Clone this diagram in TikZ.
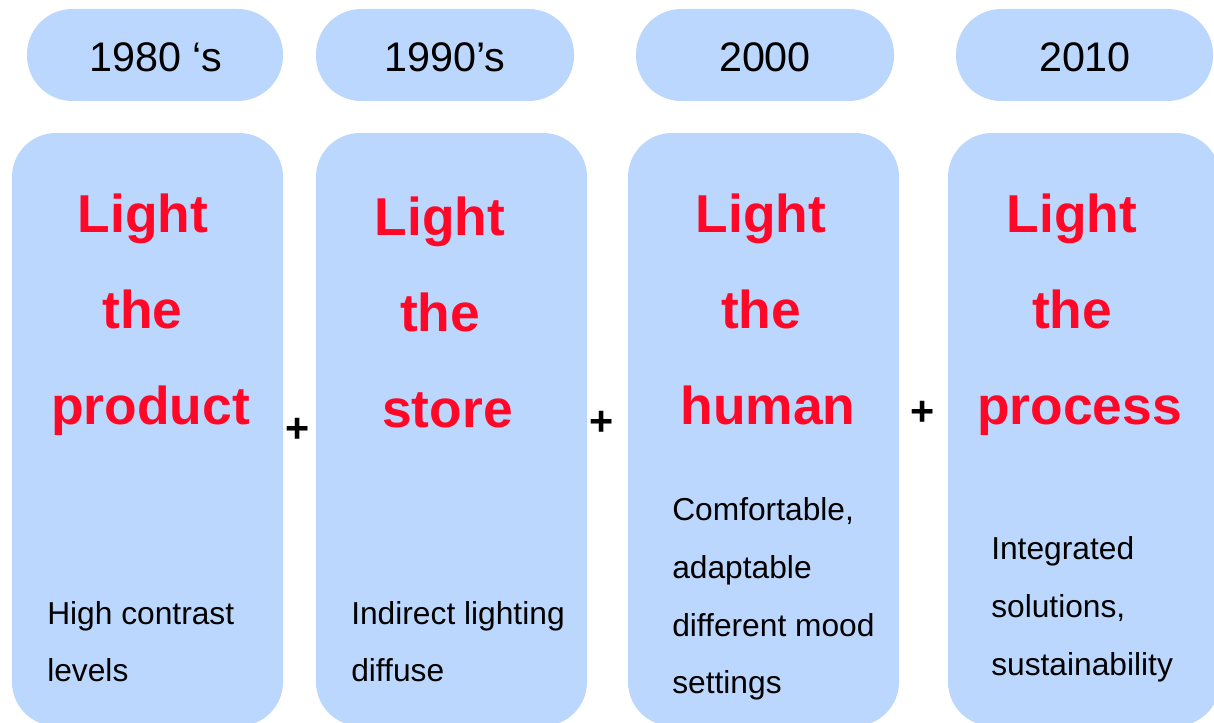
\documentclass[tikz,border=0pt]{standalone}
\usepackage{fontspec}
\setmainfont{Liberation Sans}
\definecolor{panelblue}{RGB}{188,215,253}
\definecolor{headred}{RGB}{255,8,40}

\begin{document}
\begin{tikzpicture}[x=0.75pt,y=-0.75pt,
  pill/.style={fill=panelblue, rounded corners=34pt},
  panel/.style={fill=panelblue, rounded corners=33pt},
  year/.style={anchor=base, inner sep=0pt, font=\fontsize{31}{37}\selectfont},
  headword/.style={anchor=base, inner sep=0pt, text=headred, font=\fontsize{40}{48}\selectfont\bfseries},
  note/.style={anchor=base west, inner sep=0pt, font=\fontsize{23.8}{28}\selectfont},
  plus/.style={inner sep=0pt, font=\fontsize{31}{37}\selectfont\bfseries}]

 \useasboundingbox (0,0) rectangle (1214,723);

 % year pills
 \fill[pill] (27,9) rectangle (283,101);
 \fill[pill] (316,9) rectangle (574,101);
 \fill[pill] (636,9) rectangle (894,101);
 \fill[pill] (956,9) rectangle (1213,101);

 % panels
 \fill[panel] (12,133) rectangle (283,726);
 \fill[panel] (316,133) rectangle (587,726);
 \fill[panel] (628,133) rectangle (899,726);
 \fill[panel] (948,133) rectangle (1220,726);

 % years
 \node[year] (y1) at (156,72) {1980 ‘s};
 \node[year] (y2) at (445,72) {1990’s};
 \node[year] (y3) at (765,72) {2000};
 \node[year] (y4) at (1085,72) {2010};

 % head words
 \node[headword] (h1a) at (143,233) {Light};
 \node[headword] (h1b) at (142.5,329) {the};
 \node[headword] (h1c) at (150.5,425) {product};

 \node[headword] (h2a) at (440,236) {Light};
 \node[headword] (h2b) at (440,332) {the};
 \node[headword] (h2c) at (447.5,428) {store};

 \node[headword] (h3a) at (761,233) {Light};
 \node[headword] (h3b) at (761,329) {the};
 \node[headword] (h3c) at (768,425) {human};

 \node[headword] (h4a) at (1072,233) {Light};
 \node[headword] (h4b) at (1072,329) {the};
 \node[headword] (h4c) at (1079.5,425) {process};

 % notes
 \node[note] (n1a) at (47,624) {High contrast};
 \node[note] (n1b) at (47,681) {levels};

 \node[note] (n2a) at (351,624) {Indirect lighting};
 \node[note] (n2b) at (351,681) {diffuse};

 \node[note] (n3a) at (672,520) {Comfortable,};
 \node[note] (n3b) at (672,578) {adaptable};
 \node[note] (n3c) at (672,636) {different mood};
 \node[note] (n3d) at (672,693) {settings};

 \node[note] (n4a) at (991,559) {Integrated};
 \node[note] (n4b) at (991,617) {solutions,};
 \node[note] (n4c) at (991,675) {sustainability};

 % plus signs
 \node[plus] (s1) at (298,430) {+};
 \node[plus] (s2) at (602,423) {+};
 \node[plus] (s3) at (923,413) {+};
\end{tikzpicture}
\end{document}
